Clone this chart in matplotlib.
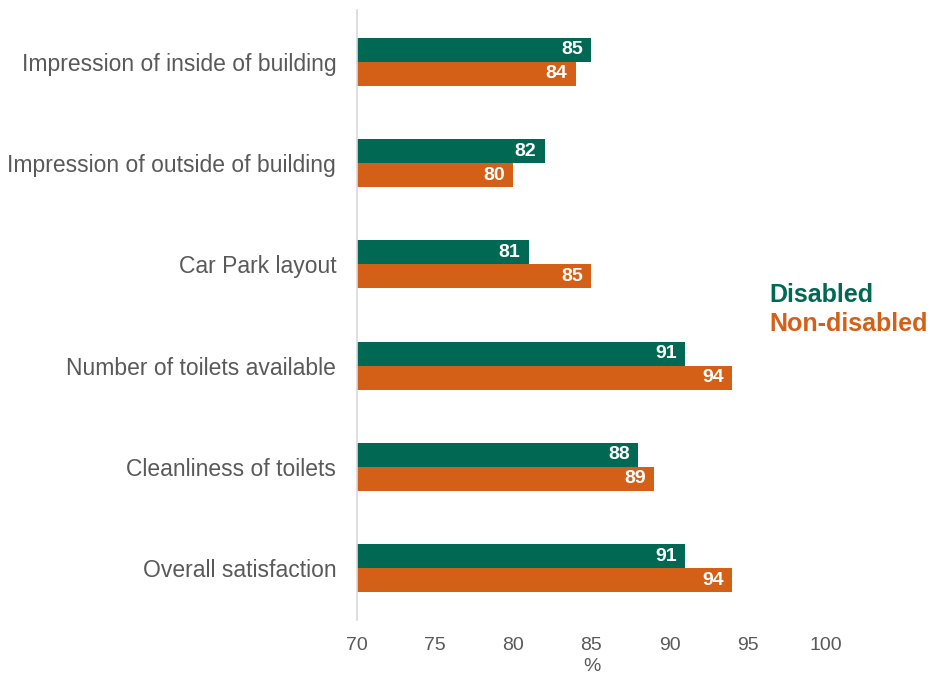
import numpy as np
import matplotlib.pyplot as plt

plt.rcParams['font.family'] = ['Liberation Sans', 'DejaVu Sans']

categories = [
    "Impression of inside of building",
    "Impression of outside of building",
    "Car Park layout",
    "Number of toilets available",
    "Cleanliness of toilets",
    "Overall satisfaction",
]
disabled = [85, 82, 81, 91, 88, 91]
non_disabled = [84, 80, 85, 94, 89, 94]
x_ticks = [70, 75, 80, 85, 90, 95, 100]

green = "#006853"
orange = "#D45F17"
grey = "#595959"

fig = plt.figure(figsize=(9.33, 6.76), dpi=100)
ax = fig.add_axes([0.3826, 0.083, 0.5027, 0.902])

y = np.arange(len(categories))
h = 0.237
ax.barh(y - h / 2, disabled, height=h, color=green)
ax.barh(y + h / 2, non_disabled, height=h, color=orange)

# value labels sit just inside the end of each bar
for yy, val in zip(y - h / 2, disabled):
    ax.annotate(str(val), (val, yy), xytext=(-6, 0), textcoords="offset points",
                ha="right", va="center", color="white", fontsize=14, fontweight="bold")
for yy, val in zip(y + h / 2, non_disabled):
    ax.annotate(str(val), (val, yy), xytext=(-6, 0), textcoords="offset points",
                ha="right", va="center", color="white", fontsize=14, fontweight="bold")

ax.set_xlim(70, 100)
ax.set_ylim(len(categories) - 0.49, -0.51)
ax.set_xticks(x_ticks)
ax.set_yticks(y)
ax.set_yticklabels(categories)
ax.tick_params(axis="x", length=0, labelsize=14, labelcolor=grey, pad=12)
ax.tick_params(axis="y", length=0, labelsize=16.5, labelcolor=grey, pad=15)
ax.set_xlabel("%", fontsize=14, color=grey, labelpad=3)

for side in ["top", "right", "bottom"]:
    ax.spines[side].set_visible(False)
ax.spines["left"].set_color("#D9D9D9")
ax.spines["left"].set_linewidth(1.2)

fig.text(0.825, 0.5636, "Disabled", color=green, fontsize=18, fontweight="bold", va="center")
fig.text(0.825, 0.5207, "Non-disabled", color=orange, fontsize=18, fontweight="bold", va="center")

fig.savefig("out.png", dpi=100)
